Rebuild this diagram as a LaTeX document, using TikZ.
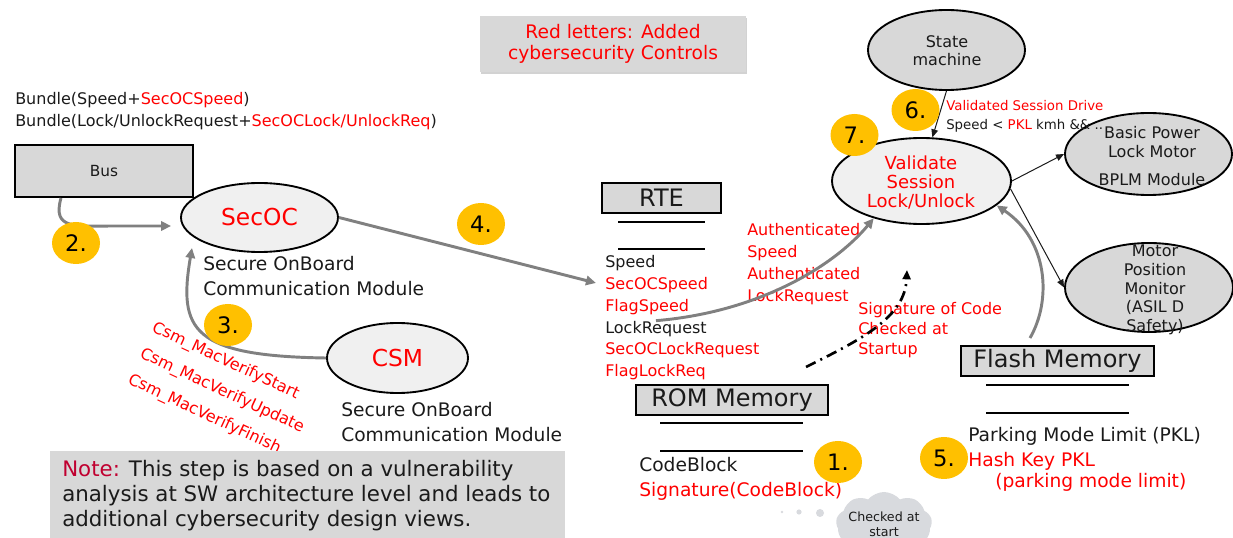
\documentclass[tikz,border=0pt]{standalone}
\usepackage{fontspec}
\setmainfont{DejaVu Sans}
\usetikzlibrary{arrows.meta,shapes.geometric,shapes.symbols,calc,shadows}

\definecolor{secred}{RGB}{255,0,0}
\definecolor{notered}{RGB}{192,0,48}
\definecolor{boxgray}{RGB}{216,216,216}
\definecolor{paleell}{RGB}{240,240,240}
\definecolor{arrowgray}{RGB}{128,128,128}
\definecolor{stepgold}{RGB}{255,192,0}
\definecolor{inkblack}{RGB}{26,26,26}
\definecolor{cloudgray}{RGB}{216,218,222}

\newcommand\fs[2]{\fontsize{#1}{#2}\selectfont}

\begin{document}
\begin{tikzpicture}[x=0.75pt, y=-0.75pt,
  every node/.style={text=inkblack, inner sep=0pt},
  txt/.style={anchor=base west},
  redtxt/.style={anchor=base west, text=secred},
  graybox/.style={rectangle, draw=black, line width=1.5pt, fill=boxgray},
  paleoval/.style={ellipse, draw=black, line width=1.4pt, fill=paleell},
  grayoval/.style={ellipse, draw=black, line width=1.4pt, fill=boxgray},
  stepmark/.style={ellipse, fill=stepgold, minimum width=36pt, minimum height=31.5pt, text=black, font=\fs{17}{19}},
  grayarrow/.style={draw=arrowgray, line width=2.2pt, -{Triangle[length=7.5pt,width=7pt]}},
  thinarrow/.style={draw=inkblack, line width=0.75pt, -{Triangle[length=6pt,width=5pt]}},
  sigarrow/.style={draw=black, line width=2pt, dash pattern=on 8pt off 4pt on 1.5pt off 4pt, -{Triangle[length=7pt,width=6pt]}},
  underrule/.style={draw=black, line width=1.1pt}
]
\useasboundingbox (0,0) rectangle (1233,538);

% legend
\node[fill=boxgray, minimum width=199.5pt, minimum height=42pt, align=center,
      text=secred, font=\fs{14}{15.75},
      drop shadow={shadow xshift=1pt, shadow yshift=-1.5pt, fill=black!35}] (legend) at (613,44)
      {Red letters: Added\\cybersecurity Controls};

% bundled signals on the bus
\node[txt, font=\fs{12}{14}] (bundle1) at (15,105) {Bundle(Speed+\textcolor{secred}{SecOCSpeed})};
\node[txt, font=\fs{12}{14}] (bundle2) at (15,127) {Bundle(Lock/UnlockRequest+\textcolor{secred}{SecOCLock/UnlockReq})};

% bus, SecOC and CSM
\node[graybox, minimum width=133.5pt, minimum height=39pt, font=\fs{11.5}{13}] (bus) at (104,171) {Bus};
\node[paleoval, minimum width=117.75pt, minimum height=51.75pt, text=secred, font=\fs{17.5}{20}] (secoc) at (259.5,217.5) {SecOC};
\node[txt, font=\fs{14}{16}] (secocl1) at (203,271) {Secure OnBoard};
\node[txt, font=\fs{14}{16}] (secocl2) at (203,296) {Communication Module};

\node[paleoval, minimum width=105.75pt, minimum height=52.5pt, text=secred, font=\fs{17.5}{20}] (csm) at (397.5,358) {CSM};
\node[txt, font=\fs{14}{16}] (csml1) at (341,417) {Secure OnBoard};
\node[txt, font=\fs{14}{16}] (csml2) at (341,442) {Communication Module};

\node[redtxt, rotate=-25, font=\fs{12}{14}] (mac1) at (151,331) {Csm\_MacVerifyStart};
\node[redtxt, rotate=-25, font=\fs{12}{14}] (mac2) at (139,357) {Csm\_MacVerifyUpdate};
\node[redtxt, rotate=-25, font=\fs{12}{14}] (mac3) at (127,383) {Csm\_MacVerifyFinish};

% note
\node[fill=boxgray, minimum width=386.25pt, minimum height=65.25pt] (notebox) at (307.5,494.5) {};
\node[txt, font=\fs{16}{18}] (note1) at (62,477) {\textcolor{notered}{Note:} This step is based on a vulnerability};
\node[txt, font=\fs{16}{18}] (note2) at (62,502) {analysis at SW architecture level and leads to};
\node[txt, font=\fs{16}{18}] (note3) at (62,527) {additional cybersecurity design views.};

% RTE
\node[graybox, minimum width=89.25pt, minimum height=22.5pt, font=\fs{18}{20}] (rte) at (661.5,198) {RTE};
\draw[underrule] (618,222) -- (705,222);
\draw[underrule] (618,249) -- (705,249);
\foreach \t/\c [count=\i] in {Speed/inkblack, SecOCSpeed/secred, FlagSpeed/secred,
                              LockRequest/inkblack, SecOCLockRequest/secred, FlagLockReq/secred}
  \node[txt, text=\c, font=\fs{12}{14}] (rte\i) at (605,{268+21.7*(\i-1)}) {\t};

\node[redtxt, font=\fs{12}{14}] (auth1) at (747,236) {Authenticated};
\node[redtxt, font=\fs{12}{14}] (auth2) at (747,258) {Speed};
\node[redtxt, font=\fs{12}{14}] (auth3) at (747,280) {Authenticated};
\node[redtxt, font=\fs{12}{14}] (auth4) at (747,302) {LockRequest};

\node[redtxt, font=\fs{12}{14}] (sig1) at (858,315) {Signature of Code};
\node[redtxt, font=\fs{12}{14}] (sig2) at (858,335) {Checked at};
\node[redtxt, font=\fs{12}{14}] (sig3) at (858,355) {Startup};

% ROM
\node[graybox, minimum width=144pt, minimum height=22.5pt, font=\fs{18}{20}] (rom) at (732,400) {ROM Memory};
\draw[underrule] (660,423) -- (803,423);
\draw[underrule] (660,451) -- (803,451);
\node[txt, font=\fs{14}{16}] (code1) at (639,472) {CodeBlock};
\node[redtxt, font=\fs{14}{16}] (code2) at (639,497) {Signature(CodeBlock)};

% thought cloud
\fill[cloudgray] (782,512) circle[radius=1.4];
\fill[cloudgray] (799,512) circle[radius=2.6];
\fill[cloudgray] (820,513) circle[radius=4];
\node[cloud, cloud puffs=9, cloud puff arc=100, aspect=1.9, fill=cloudgray, minimum width=72pt, minimum height=48pt] (cloud) at (884,524) {};
\node[align=center, font=\fs{9.5}{11.25}] (cloudtext) at (884,524) {Checked at\\start};

% Flash
\node[graybox, minimum width=144.75pt, minimum height=22.5pt, font=\fs{18}{20}] (flash) at (1057.5,361) {Flash Memory};
\draw[underrule] (986,385) -- (1129,385);
\draw[underrule] (986,413) -- (1129,413);
\node[txt, font=\fs{14}{16}] (pkl1) at (968,442) {Parking Mode Limit (PKL)};
\node[redtxt, font=\fs{14}{16}] (pkl2) at (968,467) {Hash Key PKL};
\node[redtxt, font=\fs{14}{16}] (pkl3) at (995,488) {(parking mode limit)};

% state machine, session validation and actuators
\node[grayoval, minimum width=117.75pt, minimum height=60pt] (sm) at (946.5,50) {};
\node[align=center, font=\fs{12}{13.5}] (smtext) at (947,51) {State\\machine};
\node[paleoval, minimum width=134.25pt, minimum height=64.5pt] (validate) at (921.5,181) {};
\node[align=center, text=secred, font=\fs{13.5}{14.25}] (valtext) at (921,183) {Validate\\Session\\Lock/Unlock};

\node[grayoval, minimum width=125.25pt, minimum height=61.5pt] (bplm) at (1148.5,154) {};
\node[align=center, font=\fs{12}{14.25}] (bplmtext) at (1152,156) {Basic Power\\Lock Motor\\[7pt]BPLM Module};
\node[grayoval, minimum width=126pt, minimum height=66.75pt] (mpm) at (1149,287.5) {};
\node[align=center, font=\fs{12}{14}] (mpmtext) at (1155,290) {Motor\\Position\\Monitor\\(ASIL D\\Safety)};

\node[txt, text=secred, font=\fs{10}{12}] (drive1) at (946,111) {Validated Session Drive};
\node[txt, font=\fs{10}{12}] (drive2) at (946,130) {Speed < \textcolor{secred}{PKL} kmh \&\& ..};

% connectors
\draw[grayarrow] ($(bus.south west)+(47,0)$) .. controls (52,230) and (75,226) .. (115,226) -- ($(secoc.west)+(-9,8.5)$);
\draw[grayarrow] (csm.west) .. controls (192,356) and (178,330) .. ($(secoc.center)+(-67.5,30.5)$);
\draw[grayarrow, shorten >=7pt] (secoc.east) -- (rte2.west);
\draw[grayarrow] (rte4.north) .. controls (760,312) and (835,265) .. (validate.218);
\coordinate (sigfrom) at (806,367);
\coordinate (sigto) at (907,270);
\draw[sigarrow] (sigfrom) .. controls (860,340) and (905,318) .. (sigto);
\draw[grayarrow] ($(flash.north)+(-27.5,-7)$) .. controls (1052,300) and (1048,240) .. (validate.-18);
\draw[thinarrow] (sm.south) -- (validate.76);
\draw[thinarrow] (validate.east) -- (bplm.west);
\draw[thinarrow] (validate.-5) -- (mpm.west);

% step markers
\node[stepmark] (step1) at (838,462) {1.};
\node[stepmark] (step2) at (76,243) {2.};
\node[stepmark] (step3) at (228,325) {3.};
\node[stepmark] (step4) at (481,224) {4.};
\node[stepmark] (step5) at (944,458) {5.};
\node[stepmark] (step6) at (915.5,110) {6.};
\node[stepmark] (step7) at (854.5,135) {7.};
\end{tikzpicture}
\end{document}
